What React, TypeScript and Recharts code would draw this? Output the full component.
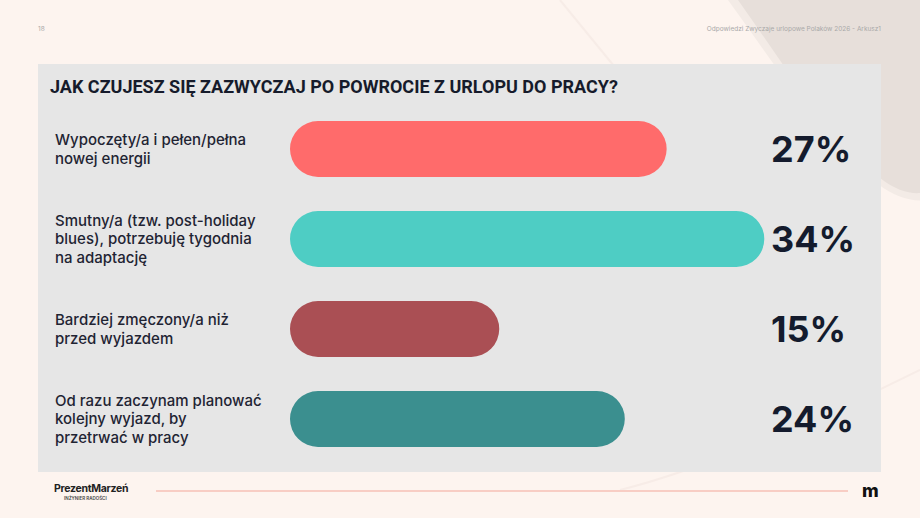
import { BarChart, Bar, XAxis, YAxis, Cell, LabelList } from "recharts";

const answers = [
  "Wypoczęty/a i pełen/pełna\nnowej energii",
  "Smutny/a (tzw. post-holiday\nblues), potrzebuję tygodnia\nna adaptację",
  "Bardziej zmęczony/a niż\nprzed wyjazdem",
  "Od razu zaczynam planować\nkolejny wyjazd, by\nprzetrwać w pracy",
];
const shares = [27, 34, 15, 24];
const barColors = ["#ff6b6b", "#4ecdc4", "#aa4f54", "#3b8f8f"];

const data = answers.map((answer, i) => ({ answer, share: shares[i] }));

const font = "Inter, 'Noto Sans', sans-serif";

function AnswerTick({ y, payload }: any) {
  const lines = String(payload.value).split("\n");
  const lh = 18.5;
  const start = y - ((lines.length - 1) * lh) / 2;
  return (
    <text x={55} y={start} fill="#1f2433" fontSize={15} fontWeight={500} fontFamily={font} textAnchor="start">
      {lines.map((l, i) => (
        <tspan key={i} x={55} y={start + i * lh} dy="0.36em">
          {l}
        </tspan>
      ))}
    </text>
  );
}

function ShareLabel({ y, height, value }: any) {
  return (
    <text x={771} y={y + height / 2} dy="0.36em" fill="#141b2d" fontSize={36} fontWeight={700} fontFamily={font}>
      {value}%
    </text>
  );
}

export default function App() {
  return (
    <div style={{ position: "relative", width: 920, height: 518, background: "#fdf4ef", overflow: "hidden", fontFamily: font }}>
      <style>{"body{margin:0}"}</style>
      <svg width={920} height={518} style={{ position: "absolute", left: 0, top: 0 }}>
        <path d="M728 0 C780 72 828 146 878 184 C896 198 912 202 930 200 L930 0 Z" fill="#f3ebe6" />
        <path d="M738 0 C788 70 830 140 880 178 C895 190 910 194 920 193 L920 0 Z" fill="#e7dfda" />
        <path d="M560 0 L650 110" stroke="#f7ece7" strokeWidth={2} fill="none" />
        <path d="M620 490 C700 470 820 420 920 370" stroke="#f7ece7" strokeWidth={2} fill="none" />
      </svg>
      <div style={{ position: "absolute", left: 38, top: 25, fontSize: 6.5, color: "#a9a9a9" }}>18</div>
      <div style={{ position: "absolute", right: 39, top: 25, fontSize: 6.5, color: "#a9a9a9" }}>
        Odpowiedzi Zwyczaje urlopowe Polaków 2026 - Arkusz1
      </div>
      <div style={{ position: "absolute", left: 38, top: 64, width: 843, height: 408, background: "#e6e6e6" }} />
      <div
        style={{
          position: "absolute",
          left: 50,
          top: 76,
          fontSize: 18,
          fontWeight: 700,
          color: "#161b2b",
          fontFamily: "Roboto, sans-serif",
        }}
      >
        JAK CZUJESZ SIĘ ZAZWYCZAJ PO POWROCIE Z URLOPU DO PRACY?
      </div>
      <div style={{ position: "absolute", left: 0, top: 0 }}>
        <BarChart
          width={920}
          height={518}
          data={data}
          layout="vertical"
          margin={{ top: 104, right: 72, bottom: 54, left: 0 }}
          barSize={56}
        >
          <XAxis type="number" domain={[0, 40]} hide />
          <YAxis
            type="category"
            dataKey="answer"
            width={290}
            axisLine={false}
            tickLine={false}
            tick={<AnswerTick />}
            interval={0}
          />
          <Bar dataKey="share" radius={28} isAnimationActive={false}>
            {data.map((d, i) => (
              <Cell key={d.answer} fill={barColors[i]} />
            ))}
            <LabelList dataKey="share" content={<ShareLabel />} />
          </Bar>
        </BarChart>
      </div>
      <div style={{ position: "absolute", left: 54, top: 482, fontSize: 10.5, fontWeight: 700, color: "#222", letterSpacing: -0.3 }}>
        PrezentMarzeń
      </div>
      <div style={{ position: "absolute", left: 64, top: 496, fontSize: 4.5, fontWeight: 600, color: "#444" }}>
        INŻYNIER RADOŚCI
      </div>
      <div style={{ position: "absolute", left: 156, top: 490, width: 692, height: 2, background: "#f8cdc4" }} />
      <div style={{ position: "absolute", left: 862, top: 480, fontSize: 18, fontWeight: 800, color: "#111", letterSpacing: -1 }}>
        m
      </div>
    </div>
  );
}
